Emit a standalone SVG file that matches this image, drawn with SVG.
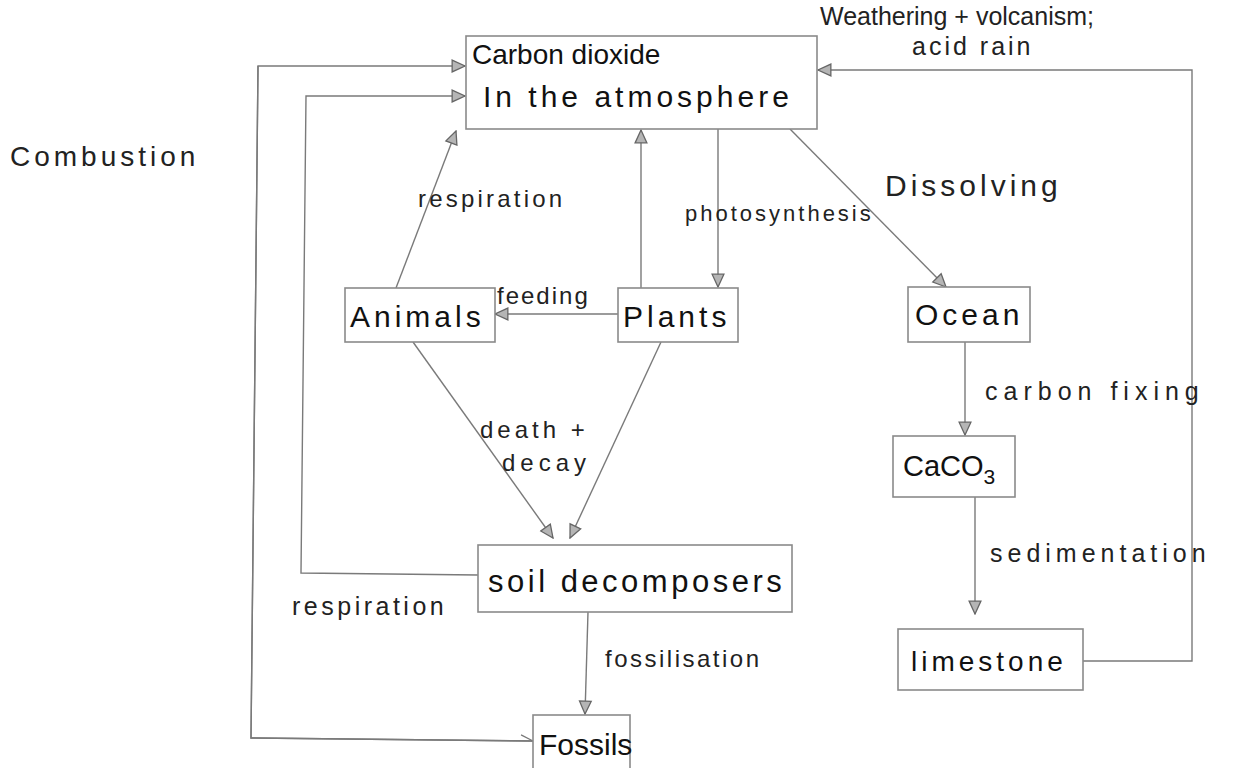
<svg xmlns="http://www.w3.org/2000/svg" width="1234" height="768" viewBox="0 0 1234 768">
<defs>
<style>
.box{fill:#fff;stroke:#8a8a8a;stroke-width:1.6}
.ln{fill:none;stroke:#7a7a7a;stroke-width:1.4}
.nt{font-family:"Liberation Sans",Arial,sans-serif;fill:#111}
.lb{font-family:"Liberation Sans",Arial,sans-serif;fill:#222}
</style>
<marker id="ah" viewBox="0 0 14 14" refX="13" refY="7" markerWidth="15" markerHeight="15" markerUnits="userSpaceOnUse" orient="auto">
<path d="M1,1.5 L13,7 L1,12.5 Z" fill="#b5b5b5" stroke="#666" stroke-width="1.2"/>
</marker>
<marker id="oh" viewBox="0 0 14 14" refX="13" refY="7" markerWidth="14" markerHeight="14" markerUnits="userSpaceOnUse" orient="auto">
<path d="M1,1 L13,7" fill="none" stroke="#777" stroke-width="1.2"/>
</marker>
</defs>
<rect width="1234" height="768" fill="#fff"/>

<g id="connectors">
<path class="ln" d="M1083,661 L1192,661 L1192,70 L818,70" marker-end="url(#ah)"/>
<path class="ln" d="M533,741 L251,738 L258,66 L465,66" marker-end="url(#ah)"/>
<path class="ln" d="M258,66 L251,738 L533,741" marker-end="url(#oh)"/>
<path class="ln" d="M478,575 L301,573 L306,96 L465,96" marker-end="url(#ah)"/>
<path class="ln" d="M618,314 L495,314" marker-end="url(#ah)"/>
<path class="ln" d="M396,288 L456,131" marker-end="url(#ah)"/>
<path class="ln" d="M641,288 L641,130" marker-end="url(#ah)"/>
<path class="ln" d="M718,129 L718,287" marker-end="url(#ah)"/>
<path class="ln" d="M790,129 L946,287" marker-end="url(#ah)"/>
<path class="ln" d="M965,342 L965,435" marker-end="url(#ah)"/>
<path class="ln" d="M975,497 L975,614" marker-end="url(#ah)"/>
<path class="ln" d="M413,342 L553,538" marker-end="url(#ah)"/>
<path class="ln" d="M661,342 L570,538" marker-end="url(#ah)"/>
<path class="ln" d="M588,612 L585,714" marker-end="url(#ah)"/>
</g>

<g id="labels">
<text class="lb" x="820" y="25" style="font-size:25px">Weathering + volcanism;</text>
<text class="lb" x="912" y="55" style="font-size:25px;letter-spacing:3px">acid rain</text>
<text class="lb" x="10" y="166" style="font-size:28px;letter-spacing:4px">Combustion</text>
<text class="lb" x="418" y="207" style="font-size:24px;letter-spacing:3.2px">respiration</text>
<text class="lb" x="685" y="221" style="font-size:22px;letter-spacing:3px">photosynthesis</text>
<text class="lb" x="885" y="196" style="font-size:30px;letter-spacing:4px">Dissolving</text>
<text class="lb" x="497" y="304" style="font-size:24px;letter-spacing:2px">feeding</text>
<text class="lb" x="480" y="438" style="font-size:24px;letter-spacing:4px">death +</text>
<text class="lb" x="502" y="471" style="font-size:24px;letter-spacing:5px">decay</text>
<text class="lb" x="985" y="400" style="font-size:25px;letter-spacing:6px">carbon fixing</text>
<text class="lb" x="990" y="562" style="font-size:25px;letter-spacing:5px">sedimentation</text>
<text class="lb" x="292" y="615" style="font-size:25px;letter-spacing:3.5px">respiration</text>
<text class="lb" x="605" y="667" style="font-size:24px;letter-spacing:2.5px">fossilisation</text>
</g>

<g id="co2">
<rect class="box" x="466" y="36" width="351" height="93"/>
<text class="nt" x="472" y="64" style="font-size:28px">Carbon dioxide</text>
<text class="nt" x="483" y="107" style="font-size:30px;letter-spacing:4px">In the atmosphere</text>
</g>
<g id="animals">
<rect class="box" x="345" y="288" width="150" height="54"/>
<text class="nt" x="350" y="327" style="font-size:30px;letter-spacing:4px">Animals</text>
</g>
<g id="plants">
<rect class="box" x="618" y="288" width="120" height="54"/>
<text class="nt" x="623" y="327" style="font-size:30px;letter-spacing:4px">Plants</text>
</g>
<g id="ocean">
<rect class="box" x="908" y="287" width="122" height="55"/>
<text class="nt" x="915" y="325" style="font-size:30px;letter-spacing:4px">Ocean</text>
</g>
<g id="caco3">
<rect class="box" x="893" y="436" width="122" height="61"/>
<text class="nt" x="903" y="476" style="font-size:29px">CaCO<tspan style="font-size:21px" dy="8">3</tspan></text>
</g>
<g id="limestone">
<rect class="box" x="898" y="629" width="185" height="61"/>
<text class="nt" x="911" y="671" style="font-size:28px;letter-spacing:4px">limestone</text>
</g>
<g id="soil">
<rect class="box" x="478" y="545" width="314" height="67"/>
<text class="nt" x="488" y="592" style="font-size:31px;letter-spacing:3.5px">soil decomposers</text>
</g>
<g id="fossils">
<rect class="box" x="533" y="715" width="97" height="62"/>
<text class="nt" x="539" y="755" style="font-size:30px">Fossils</text>
</g>
</svg>
